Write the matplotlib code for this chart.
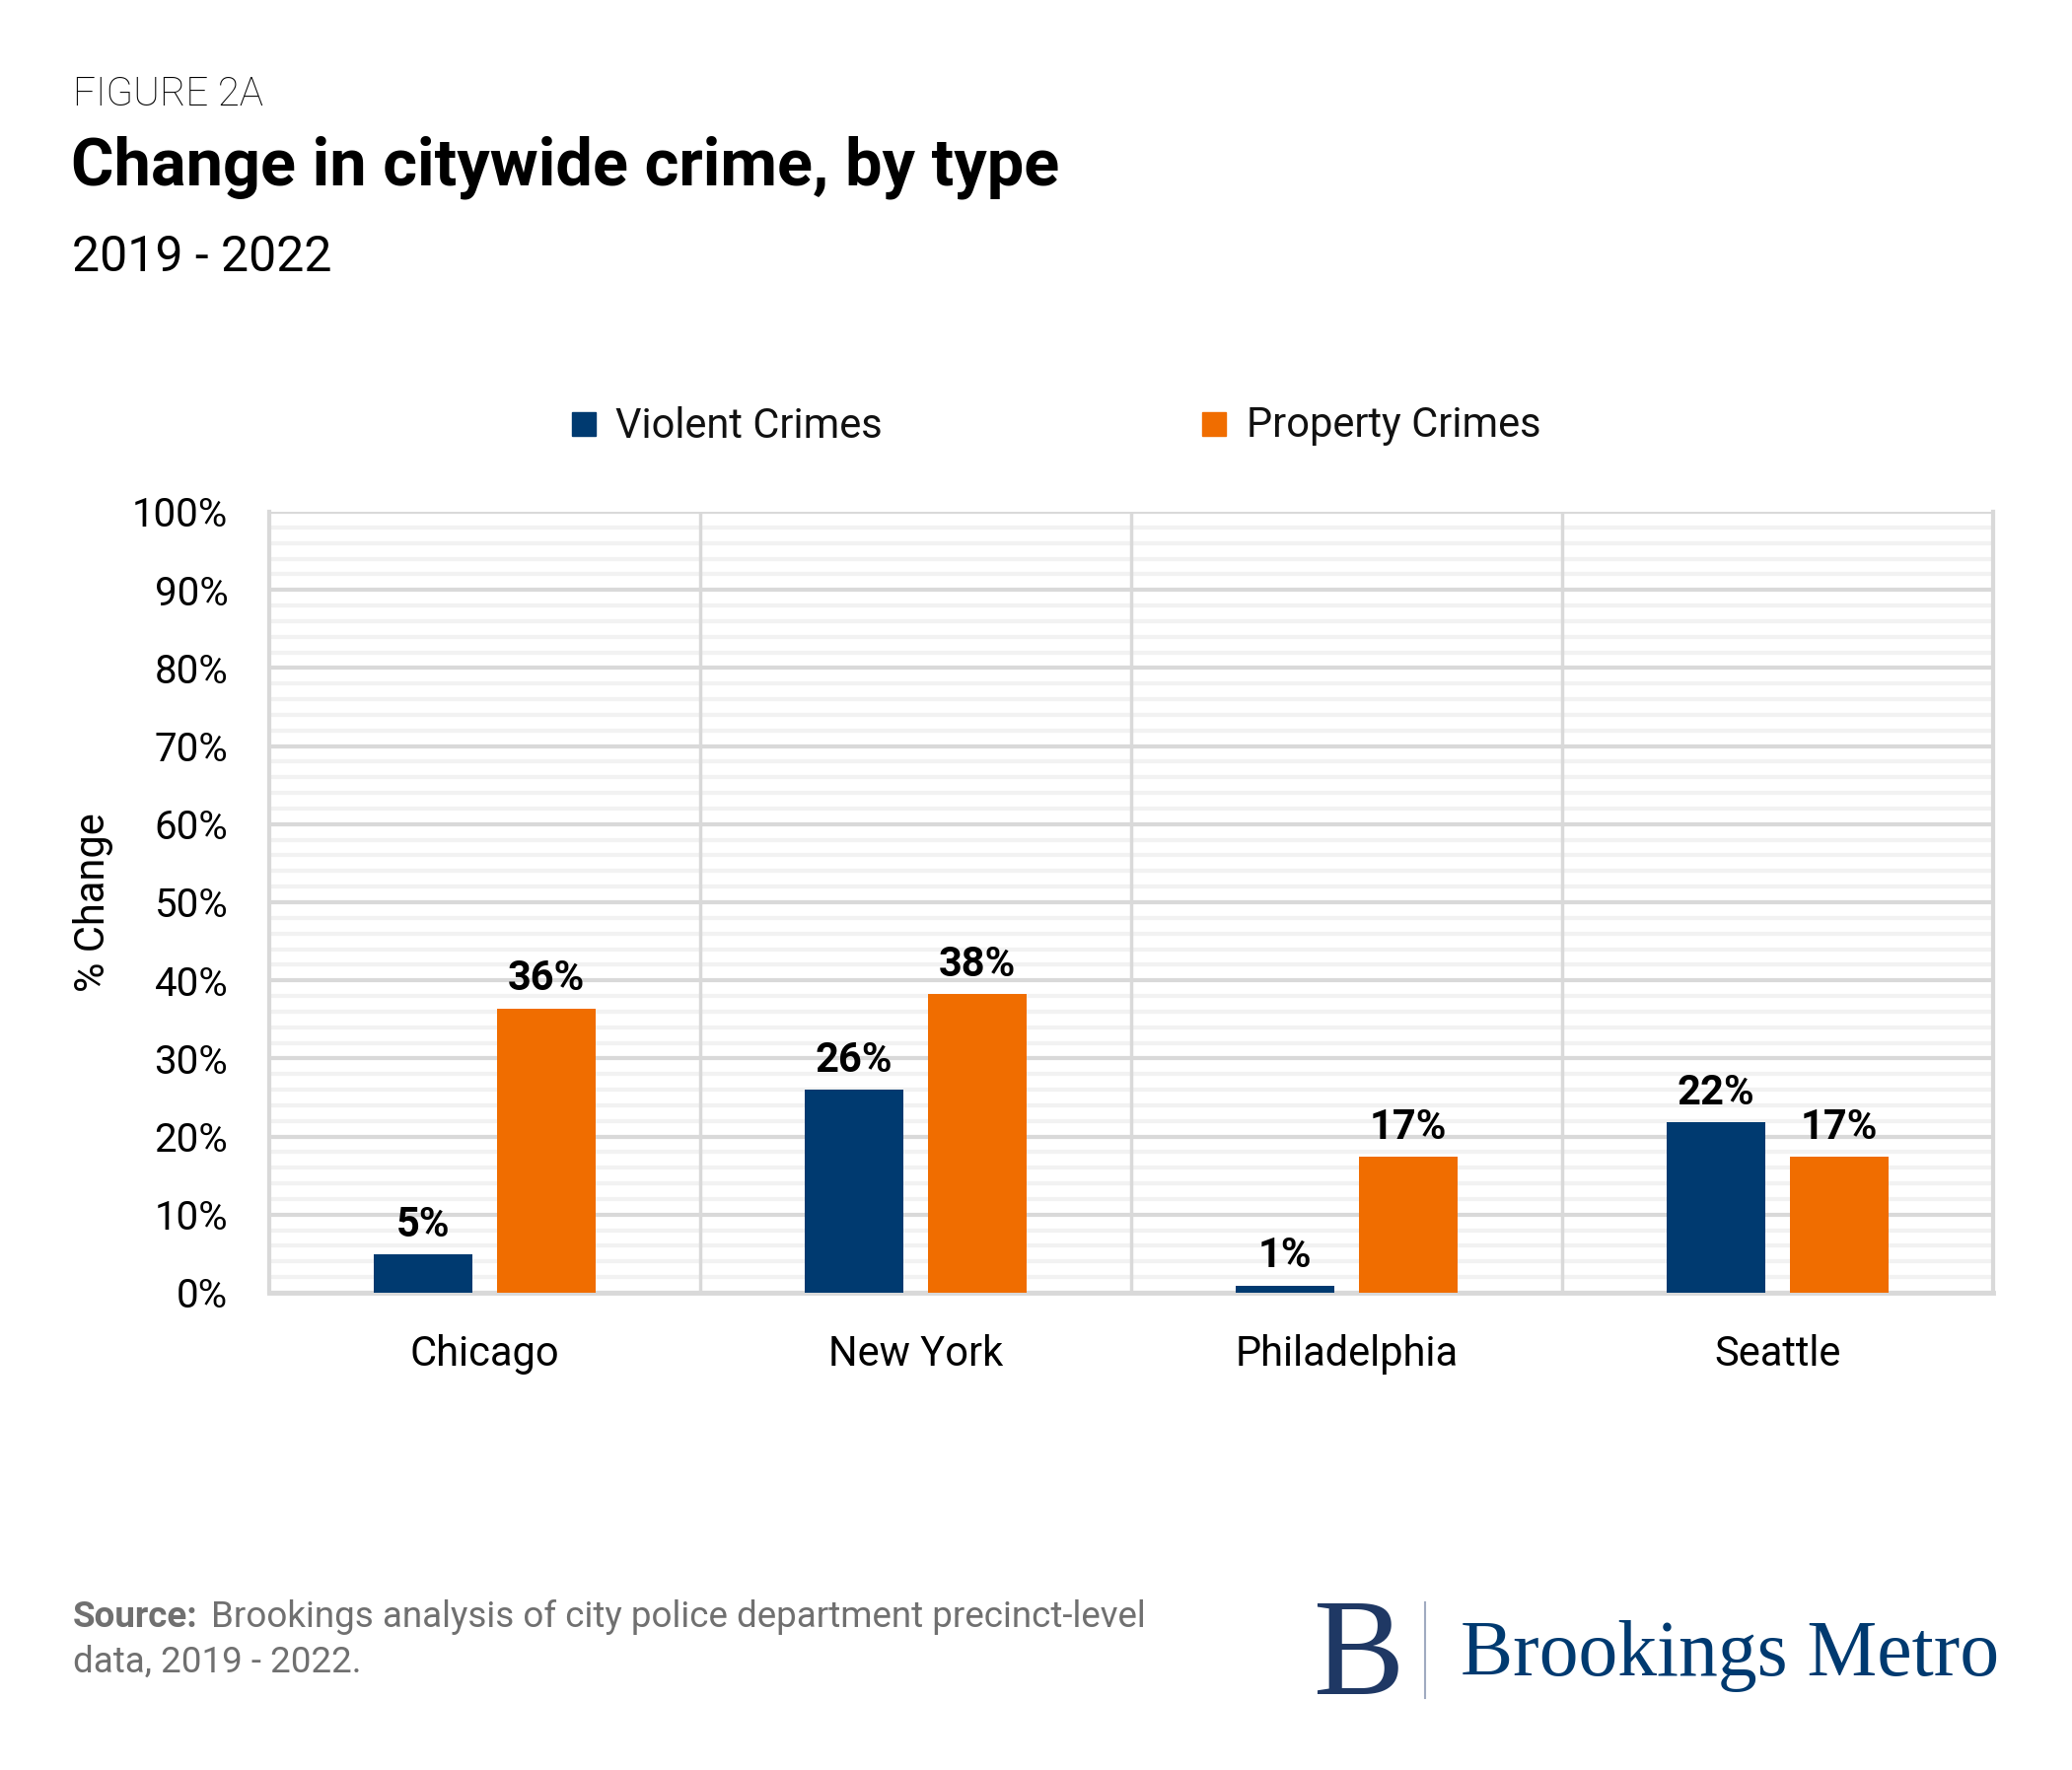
import numpy as np
import matplotlib.pyplot as plt
from matplotlib.patches import Rectangle
from matplotlib.lines import Line2D

# Data
cities = ['Chicago', 'New York', 'Philadelphia', 'Seattle']
violent = [4.9, 26.0, 0.9, 21.8]
property_ = [36.4, 38.2, 17.4, 17.4]
series_names = ['Violent Crimes', 'Property Crimes']
y_ticks = list(range(0, 101, 10))

navy = '#003A70'
orange = '#F06D00'
W, H = 2101, 1795

plt.rcParams['font.family'] = ['Roboto', 'DejaVu Sans']

fig = plt.figure(figsize=(W / 100, H / 100), dpi=100)

def fx(px):
    return px / W

def fy(py):
    return 1 - py / H

# header
fig.text(fx(74), fy(96), 'FIGURE 2A', fontsize=29, fontweight='light', va='center', ha='left', color='black')
fig.text(fx(72), fy(170), 'Change in citywide crime, by type', fontsize=48, fontweight='bold', va='center', ha='left', color='black')
fig.text(fx(73), fy(261), '2019 - 2022', fontsize=36, va='center', ha='left', color='black')

# axes
left, right, top, bottom = 273, 2021, 519, 1311
ax = fig.add_axes([fx(left), fy(bottom), fx(right - left), (bottom - top) / H])

x = np.arange(len(cities))
bw = 0.227
off = 0.143
b1 = ax.bar(x - off, violent, bw, color=navy, zorder=3)
b2 = ax.bar(x + off, property_, bw, color=orange, zorder=3)

for bars, vals in [(b1, violent), (b2, property_)]:
    for r, v in zip(bars, vals):
        ax.text(r.get_x() + r.get_width() / 2, v + 1.2, f'{v:.0f}%', ha='center', va='bottom',
                fontsize=30, fontweight='bold', color='black', zorder=4)

ax.set_xlim(-0.5, len(cities) - 0.5)
ax.set_ylim(0, 100)
ax.set_yticks(y_ticks)
ax.set_yticklabels([f'{t}%' for t in y_ticks], fontsize=29)
ax.set_yticks(np.arange(0, 101, 2), minor=True)
ax.set_xticks(x)
ax.set_xticklabels(cities, fontsize=30)
ax.tick_params(axis='both', length=0, which='both')
ax.tick_params(axis='y', pad=30)
ax.tick_params(axis='x', pad=30)

ax.grid(axis='y', which='major', color='#D9D9D9', linewidth=3)
ax.grid(axis='y', which='minor', color='#F2F2F2', linewidth=3)
for xv in np.arange(0.5, len(cities) - 0.5, 1):
    ax.axvline(xv, color='#D9D9D9', linewidth=2.5, zorder=2)

ax.spines['top'].set_visible(False)
for s in ['left', 'right']:
    ax.spines[s].set_color('#D9D9D9')
    ax.spines[s].set_linewidth(3)
ax.spines['bottom'].set_color('#D9D9D9')
ax.spines['bottom'].set_linewidth(3.5)

ax.set_ylabel('% Change', fontsize=30, labelpad=14)

# legend
for (sq_x, tx_x), name, c in zip([(580, 624), (1219, 1264)], series_names, [navy, orange]):
    fig.add_artist(Rectangle((fx(sq_x), fy(442)), fx(24), 24 / H, color=c, transform=fig.transFigure))
    fig.text(fx(tx_x), fy(432), name, fontsize=30, va='center', ha='left', color='#111111')

# source
fig.text(fx(74), fy(1640), 'Source:', fontsize=26.5, fontweight='bold', color='#707070', va='center', ha='left')
fig.text(fx(214), fy(1640), 'Brookings analysis of city police department precinct-level', fontsize=26.5,
         color='#707070', va='center', ha='left')
fig.text(fx(74), fy(1686), 'data, 2019 - 2022.', fontsize=26.5, color='#707070', va='center', ha='left')

# logo
fig.text(fx(1331), fy(1718), 'B', fontsize=100, family='Liberation Serif', color='#1F3864', va='baseline', ha='left')
fig.add_artist(Line2D([fx(1445), fx(1445)], [fy(1625), fy(1722)], color='#A0AAC0', linewidth=1.5))
fig.text(fx(1481), fy(1699), 'Brookings Metro', fontsize=57.3, family='Liberation Serif', color='#003A70',
         va='baseline', ha='left')

fig.savefig('out.png', dpi=100)
